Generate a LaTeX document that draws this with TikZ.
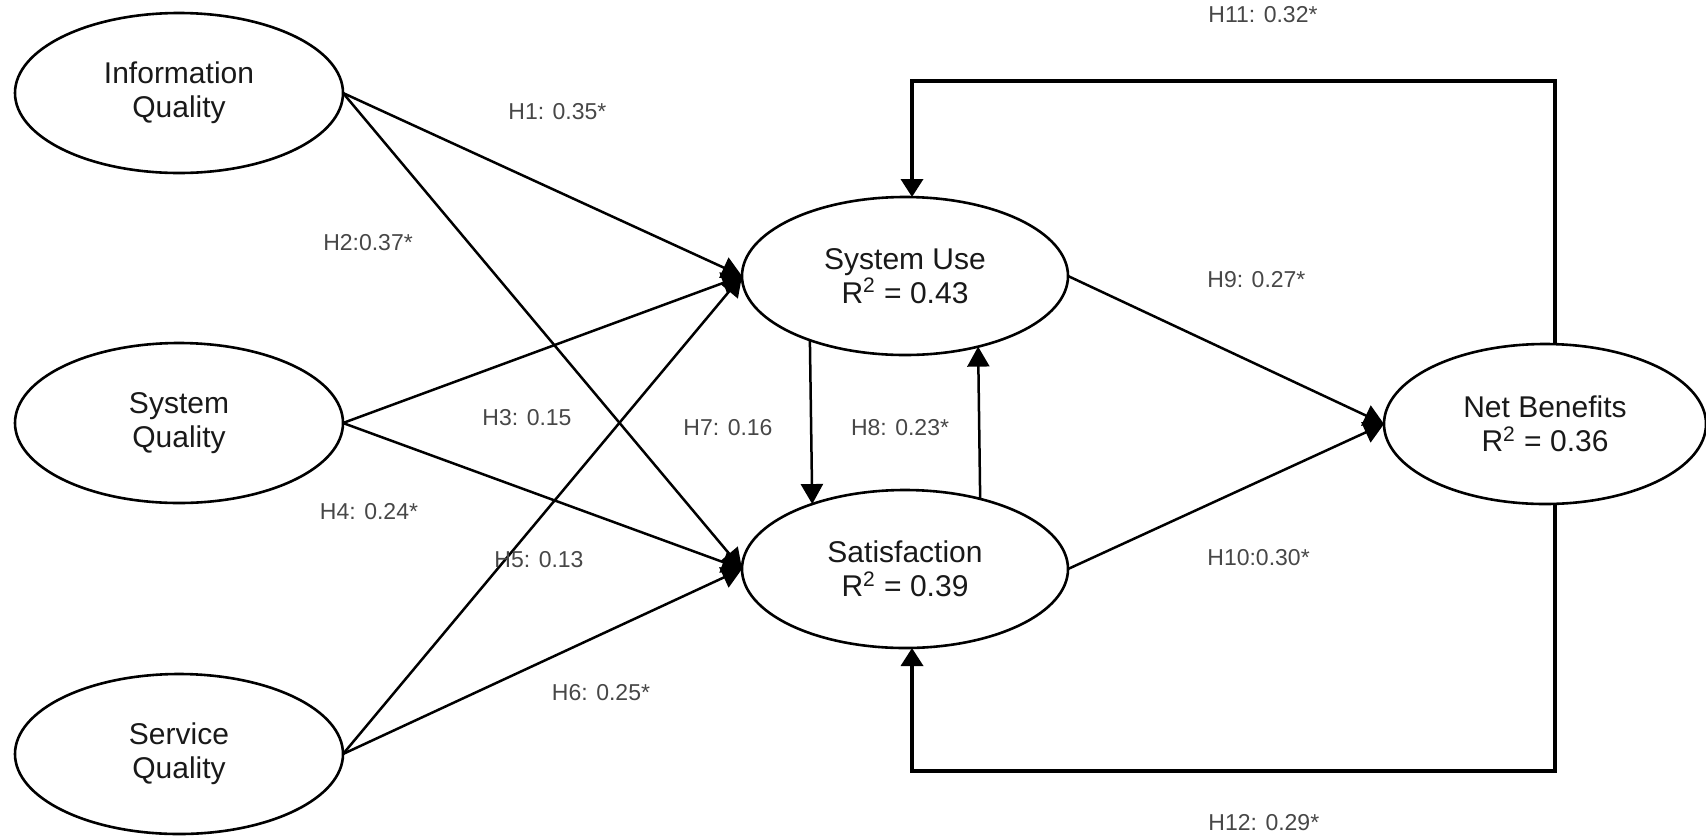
\documentclass[tikz,border=0pt]{standalone}
\usepackage{fontspec}
\setmainfont{Liberation Sans}
\usetikzlibrary{shapes.geometric,arrows.meta}
\begin{document}
\begin{tikzpicture}[x=0.5pt,y=-0.5pt,
  lat/.style={ellipse, draw, line width=1.3pt, inner sep=0pt, outer sep=0pt,
    align=center, font=\fontsize{15}{17}\selectfont, text=black!90},
  lbl/.style={font=\fontsize{11.5}{13}\selectfont, text=black!72, inner sep=0pt},
  link/.style={line width=1.25pt, -{Triangle[length=10pt,width=11pt]}},
  fb/.style={line width=1.8pt, -{Triangle[length=9pt,width=11pt]}}]
\useasboundingbox (0,0) rectangle (1706,836);
% latent variables
\node[lat, minimum width=164pt, minimum height=80pt] (iq) at (179,93) {Information\\Quality};
\node[lat, minimum width=164pt, minimum height=80pt] (sq) at (179,423) {System\\Quality};
\node[lat, minimum width=164pt, minimum height=80pt] (svq) at (179,754) {Service\\Quality};
\node[lat, minimum width=163pt, minimum height=79pt] (su) at (905,276) {System Use\\R\textsuperscript{2} = 0.43};
\node[lat, minimum width=163pt, minimum height=79pt] (sat) at (905,569) {Satisfaction\\R\textsuperscript{2} = 0.39};
\node[lat, minimum width=161pt, minimum height=80pt] (nb) at (1545,424) {Net Benefits\\R\textsuperscript{2} = 0.36};
% paths
\draw[link] (iq.east) -- (su.west);
\draw[link] (iq.east) -- (sat.west);
\draw[link] (sq.east) -- (su.west);
\draw[link] (sq.east) -- (sat.west);
\draw[link] (svq.east) -- (su.west);
\draw[link] (svq.east) -- (sat.west);
\draw[link] (su.214.05) -- (sat.145.95);
\draw[link] (sat.43.07) -- (su.316.93);
\draw[link] (su.east) -- (nb.west);
\draw[link] (sat.east) -- (nb.west);
% feedback loops
\coordinate (tr) at (1555,81);
\coordinate (tl) at (912,81);
\coordinate (br) at (1555,771);
\coordinate (bl) at (912,771);
\draw[fb] (nb.north -| tr) -- (tr) -- (tl) -- (su.north -| tl);
\draw[fb] (nb.south -| br) -- (br) -- (bl) -- (sat.south -| bl);
% labels
\node[lbl, anchor=west] (l1) at (508,112) {H1: 0.35*};
\node[lbl] (l2) at (368,243) {H2:0.37*};
\node[lbl] (l3) at (527,418) {H3: 0.15};
\node[lbl] (l4) at (369,512) {H4: 0.24*};
\node[lbl] (l5) at (539,560) {H5: 0.13};
\node[lbl] (l6) at (601,693) {H6: 0.25*};
\node[lbl] (l7) at (728,428) {H7: 0.16};
\node[lbl] (l8) at (900,428) {H8: 0.23*};
\node[lbl, anchor=west] (l9) at (1207,280) {H9: 0.27*};
\node[lbl, anchor=west] (l10) at (1207,558) {H10:0.30*};
\node[lbl, anchor=west] (l11) at (1208,15) {H11: 0.32*};
\node[lbl, anchor=west] (l12) at (1208,823) {H12: 0.29*};
\end{tikzpicture}
\end{document}
